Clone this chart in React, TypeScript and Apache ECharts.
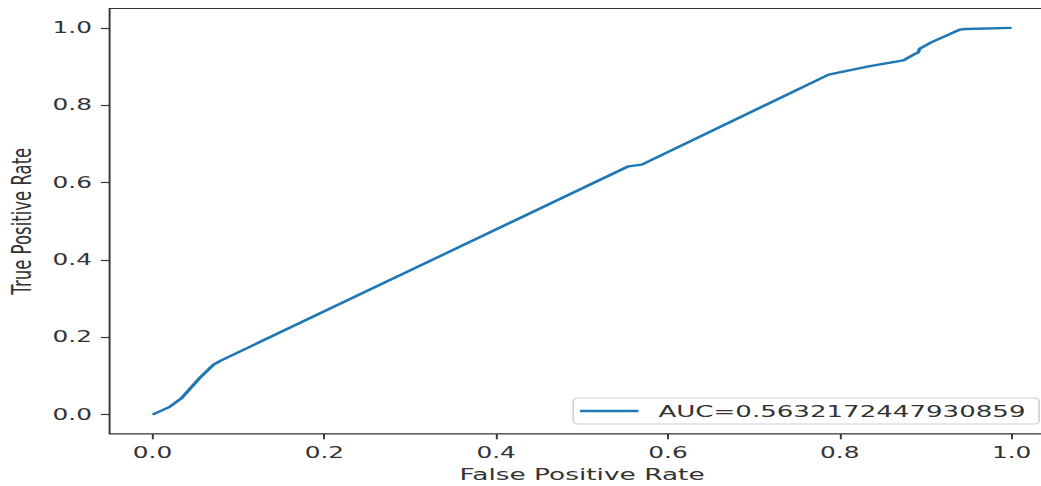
import React, { useEffect, useRef } from "react";
import * as echarts from "echarts";

// ROC curve points
const fpr = [0, 0.02, 0.034, 0.055, 0.071, 0.08, 0.554, 0.5695, 0.787, 0.835, 0.874, 0.886, 0.891, 0.893, 0.897, 0.907, 0.94, 0.946, 1.0];
const tpr = [0, 0.02, 0.043, 0.095, 0.129, 0.14, 0.642, 0.6465, 0.879, 0.901, 0.916, 0.931, 0.936, 0.946, 0.951, 0.963, 0.9956, 0.997, 1.0];
const tickValues = [0, 0.2, 0.4, 0.6, 0.8, 1.0];
const seriesName = "AUC=0.5632172447930859";
const xTitle = "False Positive Rate";
const yTitle = "True Positive Rate";

const STRETCH = 1.6;
const FONT = "DejaVu Sans";

export default function App() {
  const ref = useRef<HTMLDivElement>(null);
  useEffect(() => {
    if (!ref.current) return;
    const chart = echarts.init(ref.current, null, { renderer: "svg" });
    const data = fpr.map((x, i) => [x, tpr[i]]);
    const axisCommon = {
      type: "value" as const,
      min: -0.05,
      max: 1.05,
      splitLine: { show: false },
      axisLine: { show: false, onZero: false },
      axisTick: {
        show: true,
        customValues: tickValues,
        length: 5.4,
        lineStyle: { color: "#333", width: 1.2 },
      },
      nameLocation: "middle" as const,
      nameTextStyle: { fontFamily: FONT, fontSize: 16.5, color: "#333" },
    };
    chart.setOption({
      animation: false,
      grid: {
        left: 68.5,
        top: 8.5,
        width: 590.6,
        height: 425.4,
        show: true,
        borderColor: "#333",
        borderWidth: 1.2,
        backgroundColor: "#fff",
        containLabel: false,
        outerBoundsMode: "none",
      },
      xAxis: {
        ...axisCommon,
        name: xTitle,
        nameGap: 32,
        axisLabel: {
          customValues: tickValues,
          formatter: (v: number) => v.toFixed(1),
          fontFamily: FONT,
          fontSize: 15.5,
          color: "#333",
          margin: 10.5,
        },
      },
      yAxis: {
        ...axisCommon,
        name: yTitle,
        nameGap: 45,
        axisLabel: {
          customValues: tickValues,
          formatter: (v: number) => v.toFixed(1),
          fontFamily: FONT,
          fontSize: 15.5,
          color: "#333",
          margin: 11,
        },
      },
      legend: {
        data: [seriesName],
        left: 358.3,
        top: 398,
        orient: "horizontal",
        icon: "rect",
        itemWidth: 36.5,
        itemHeight: 2.3,
        padding: [5, 8.6, 5, 4.2],
        borderColor: "#d0d0d0",
        borderWidth: 1,
        borderRadius: 3,
        backgroundColor: "rgba(255,255,255,0.8)",
        textStyle: {
          fontFamily: FONT,
          fontSize: 16.3,
          color: "#333",
          padding: [0, 0, 0, 7.5],
        },
      },
      series: [
        {
          name: seriesName,
          type: "line",
          data,
          showSymbol: false,
          symbol: "none",
          lineStyle: { color: "#1f77b4", width: 2.3 },
          itemStyle: { color: "#1f77b4" },
        },
      ],
    });
    return () => chart.dispose();
  }, []);

  return (
    <div
      style={{
        position: "absolute",
        left: 0,
        top: 0,
        width: 1041,
        height: 486,
        overflow: "hidden",
        background: "#fff",
      }}
    >
      <div
        ref={ref}
        style={{
          width: 680,
          height: 486,
          transform: `scaleX(${STRETCH})`,
          transformOrigin: "0 0",
        }}
      />
    </div>
  );
}
